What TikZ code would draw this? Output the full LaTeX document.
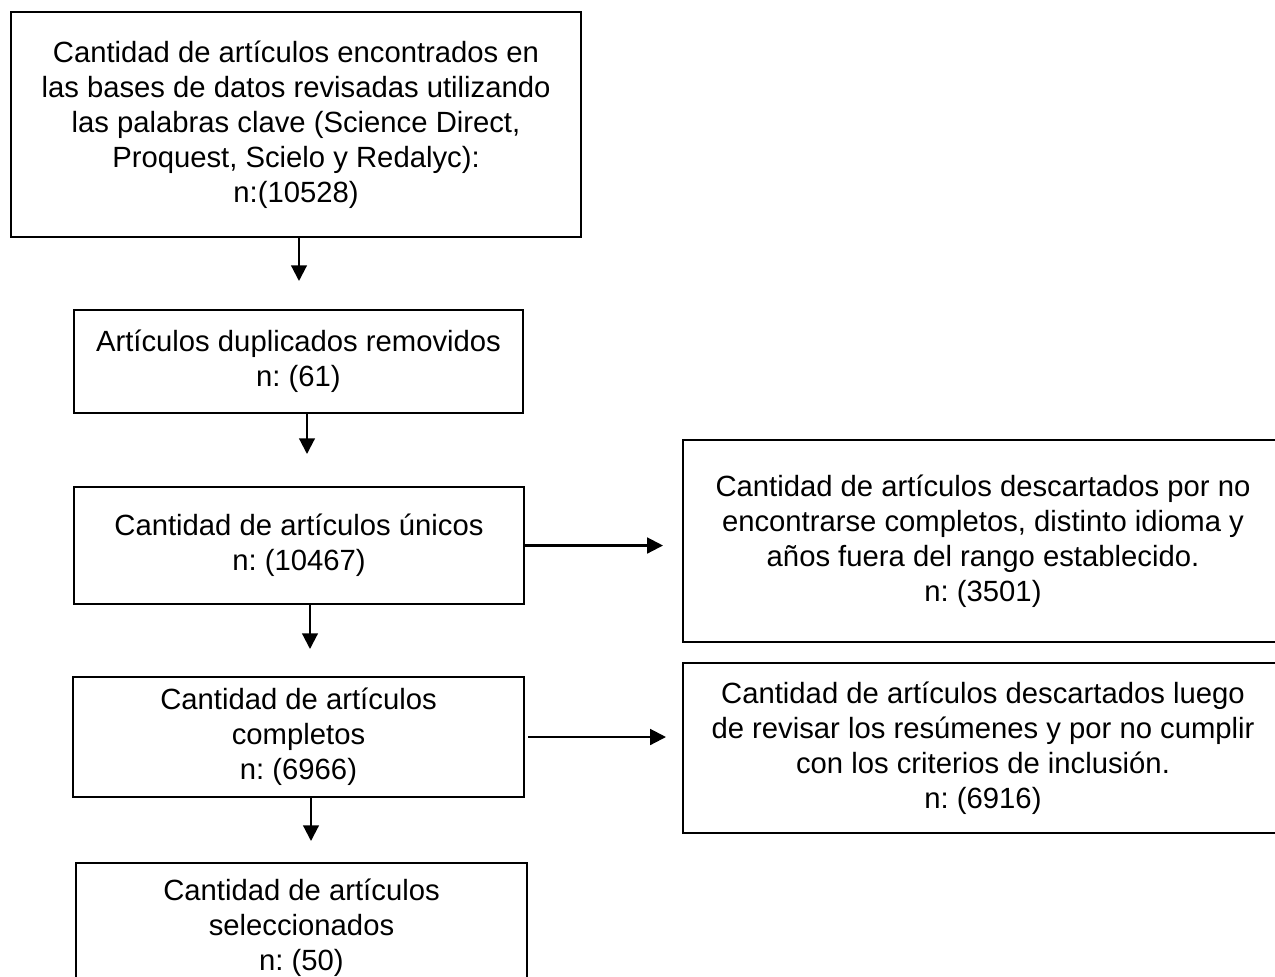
\documentclass[tikz,border=0pt]{standalone}
\usepackage{fontspec}
\setmainfont{Liberation Sans}
\usetikzlibrary{arrows.meta}
\frenchspacing
\tikzset{caja/.style={draw, line width=0.8pt, align=center, inner sep=0pt,
    font=\fontsize{11.7pt}{14pt}\selectfont},
  flecha/.style={-{Triangle[length=6.3pt,width=6.3pt]}, line width=0.85pt}}

\begin{document}
\begin{tikzpicture}[x=0.4pt,y=-0.4pt]
  \useasboundingbox (0,0) rectangle (1275,976);
  % columna principal
  \node[caja, minimum width=228pt, minimum height=90pt] (inicio) at (296,124.5)
    {Cantidad de artículos encontrados en\\las bases de datos revisadas utilizando\\las palabras clave (Science Direct,\\Proquest, Scielo y Redalyc):\\n:(10528)};
  \node[caja, minimum width=179.6pt, minimum height=41.2pt] (duplicados) at (298.5,361.5)
    {Artículos duplicados removidos\\n: (61)};
  \node[caja, minimum width=180pt, minimum height=46.8pt] (unicos) at (299,545.5)
    {Cantidad de artículos únicos\\n: (10467)};
  \node[caja, minimum width=180.4pt, minimum height=48pt] (completos) at (298.5,737)
    {Cantidad de artículos\\completos\\n: (6966)};
  \node[caja, minimum width=180.4pt, minimum height=52pt] (seleccionados) at (301.5,928)
    {Cantidad de artículos\\seleccionados\\n: (50)};
  % descartes
  \node[caja, minimum width=240pt, minimum height=80.8pt] (descartados1) at (983,541)
    {Cantidad de artículos descartados por no\\encontrarse completos, distinto idioma y\\años fuera del rango establecido.\\n: (3501)};
  \node[caja, minimum width=240pt, minimum height=68pt] (descartados2) at (983,748)
    {Cantidad de artículos descartados luego\\de revisar los resúmenes y por no cumplir\\con los criterios de inclusión.\\n: (6916)};

  \draw[flecha, shorten >=11.2pt] ([xshift=1.2pt]inicio.south) -- ([xshift=1.2pt]inicio.south |- duplicados.north);
  \draw[flecha, shorten >=12.8pt] ([xshift=3.4pt]duplicados.south) -- ([xshift=3.4pt]duplicados.south |- unicos.north);
  \draw[flecha, shorten >=10.8pt] ([xshift=4.4pt]unicos.south) -- ([xshift=4.4pt]unicos.south |- completos.north);
  \draw[flecha, shorten >=8.4pt] ([xshift=5pt]completos.south) -- ([xshift=5pt]completos.south |- seleccionados.north);
  \draw[flecha, shorten >=7.6pt] (unicos.east) -- (unicos.east -| descartados1.west);
  \draw[flecha, shorten <=1.2pt, shorten >=6.4pt] (completos.east) -- (completos.east -| descartados2.west);
\end{tikzpicture}
\end{document}
